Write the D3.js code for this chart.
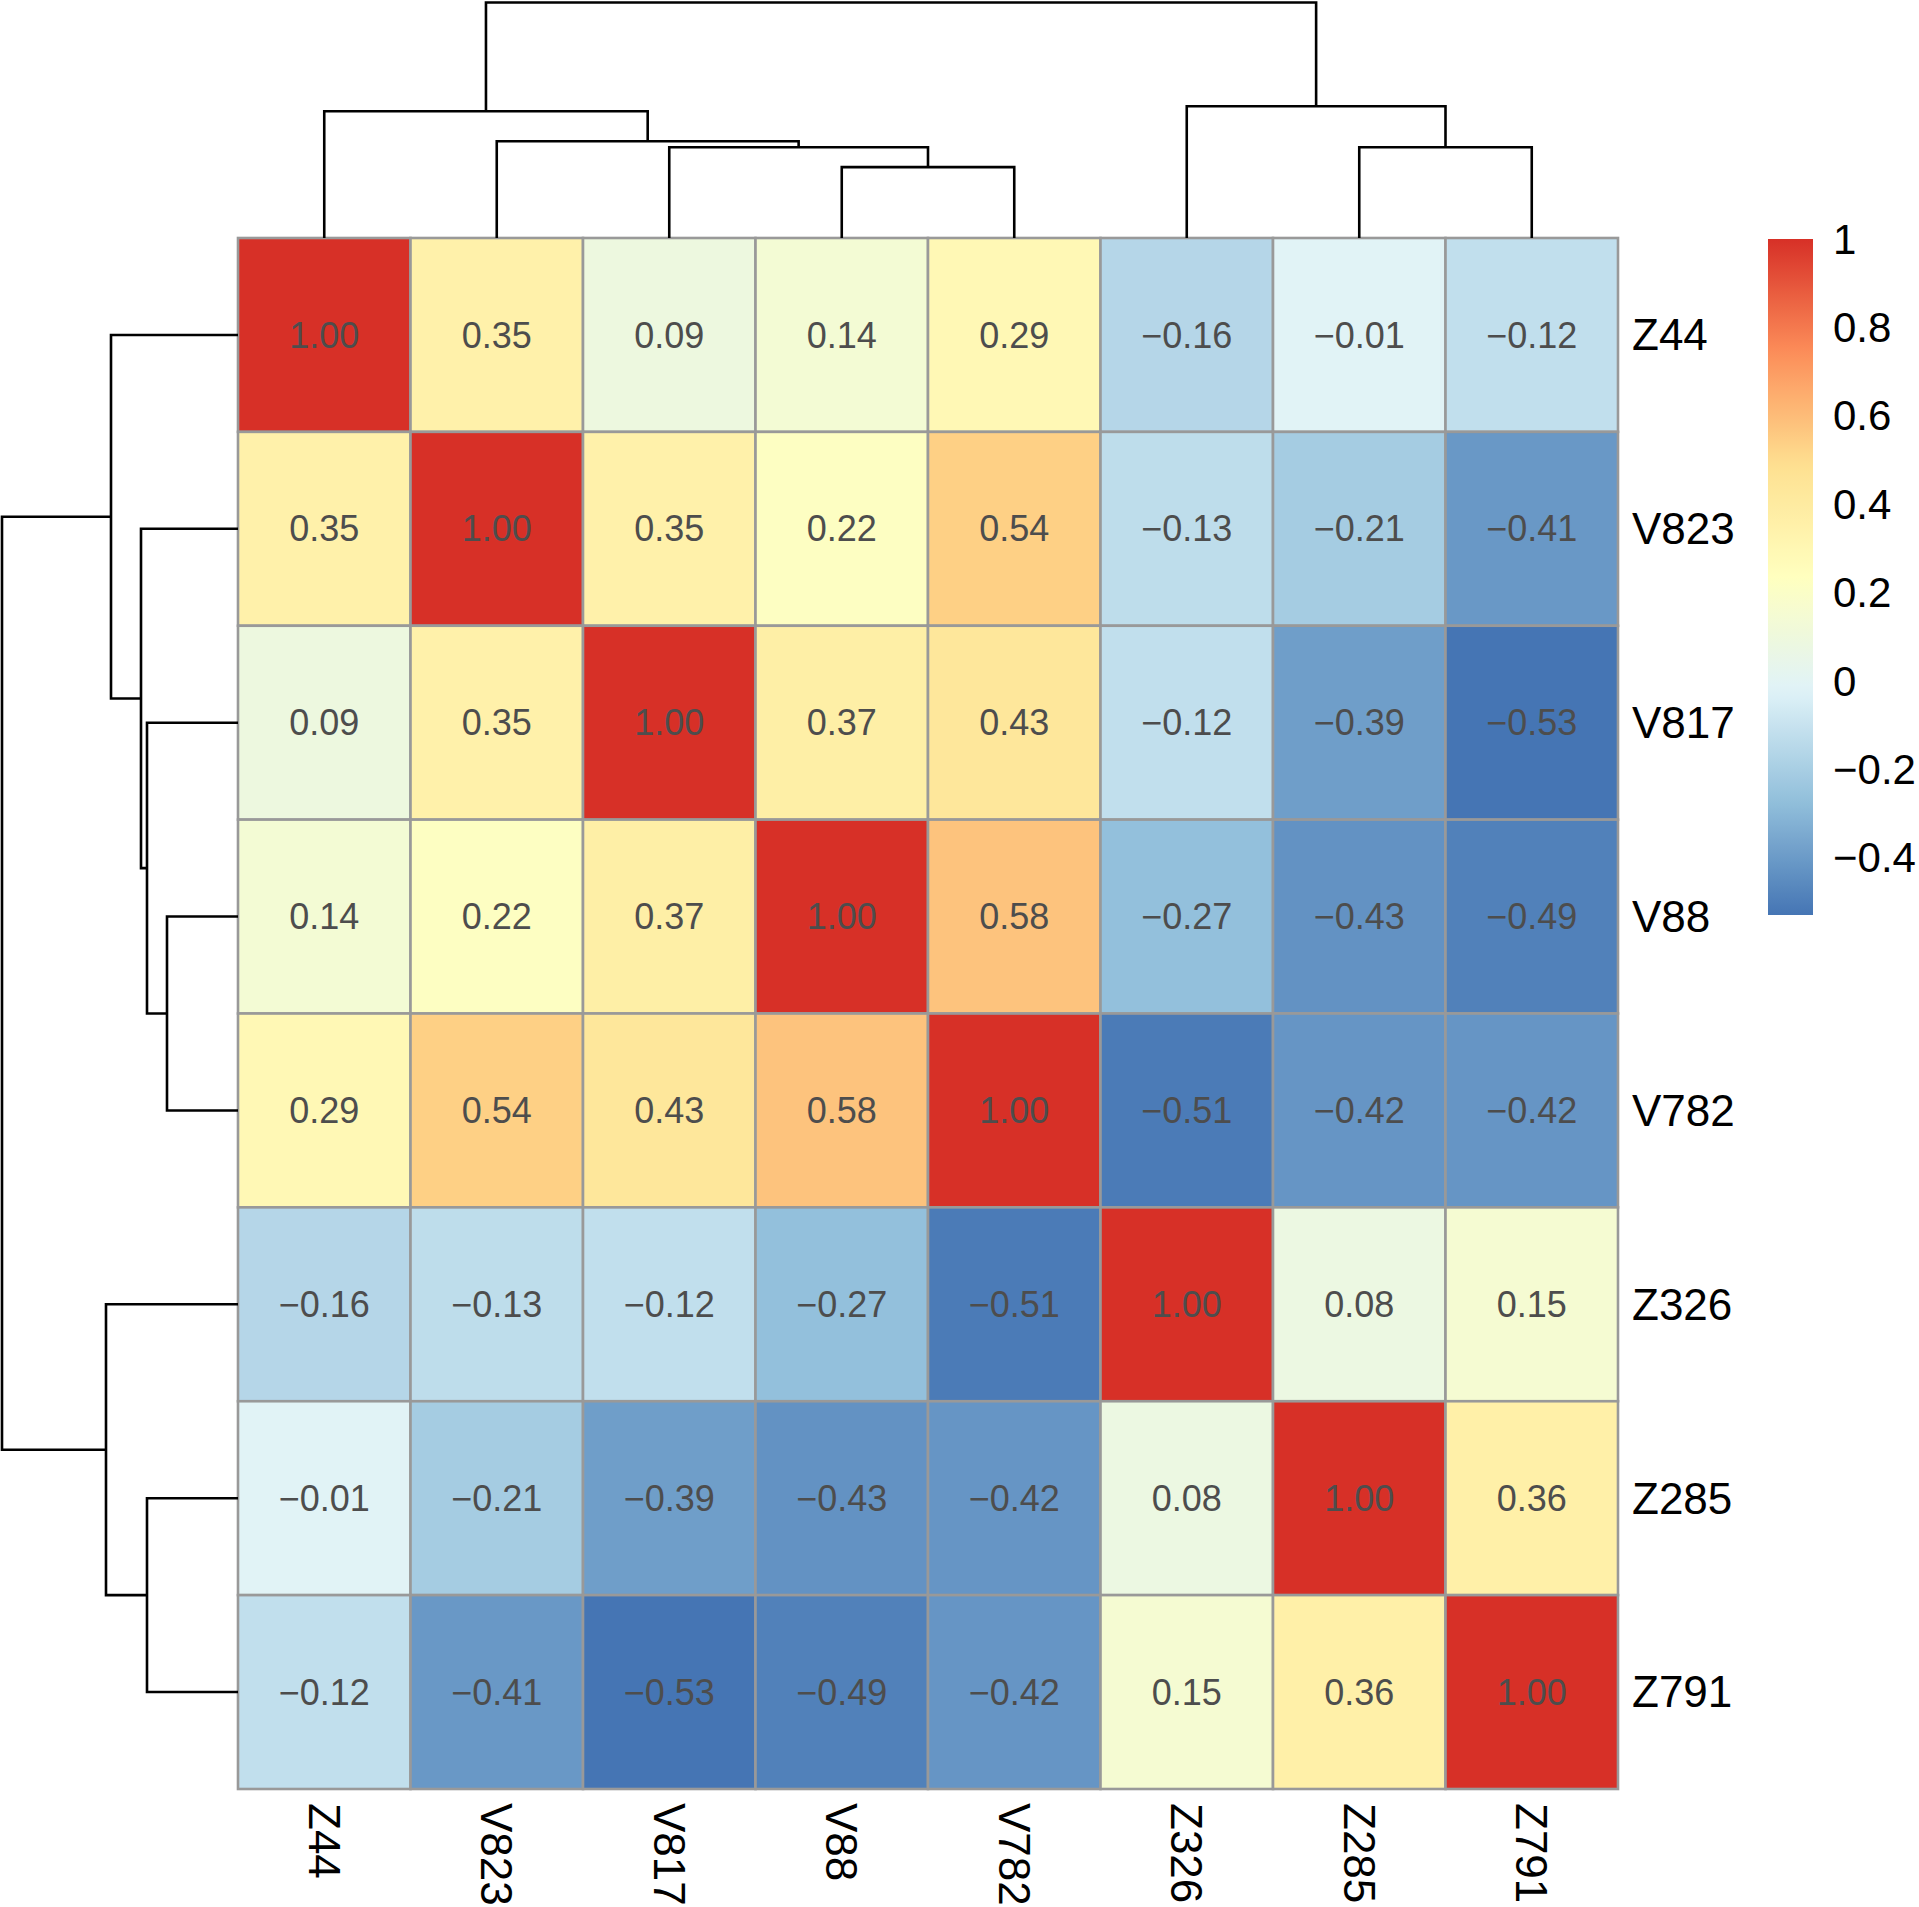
<!DOCTYPE html>
<html>
<head>
<meta charset="utf-8">
<script src="https://cdn.jsdelivr.net/npm/d3@7"></script>
<style>
  body { margin: 0; background: #fff; }
  text { font-family: "Liberation Sans", Arial, Helvetica, sans-serif; }
</style>
</head>
<body>
<svg id="chart"></svg>
<script>
// correlation matrix, rows and cols share the same (clustered) order
const labels = ["Z44", "V823", "V817", "V88", "V782", "Z326", "Z285", "Z791"];
const corr = [
  [ 1.00,  0.35,  0.09,  0.14,  0.29, -0.16, -0.01, -0.12],
  [ 0.35,  1.00,  0.35,  0.22,  0.54, -0.13, -0.21, -0.41],
  [ 0.09,  0.35,  1.00,  0.37,  0.43, -0.12, -0.39, -0.53],
  [ 0.14,  0.22,  0.37,  1.00,  0.58, -0.27, -0.43, -0.49],
  [ 0.29,  0.54,  0.43,  0.58,  1.00, -0.51, -0.42, -0.42],
  [-0.16, -0.13, -0.12, -0.27, -0.51,  1.00,  0.08,  0.15],
  [-0.01, -0.21, -0.39, -0.43, -0.42,  0.08,  1.00,  0.36],
  [-0.12, -0.41, -0.53, -0.49, -0.42,  0.15,  0.36,  1.00]
];

// hierarchical clustering merges (m1.. = result of merge step n)
const mergePairs = [
  ["V88", "V782"],
  ["V817", "m1"],
  ["V823", "m2"],
  ["Z44", "m3"],
  ["Z285", "Z791"],
  ["Z326", "m5"],
  ["m4", "m6"]
];
const mergeHeights = [0.71, 0.91, 0.97, 1.27, 0.91, 1.32, 2.36];

const paletteColors = ["#4575B4", "#91BFDB", "#E0F3F8", "#FFFFBF", "#FEE090", "#FC8D59", "#D73027"];
const legendTicks = [1, 0.8, 0.6, 0.4, 0.2, 0, -0.2, -0.4];

// layout
const W = 1919, H = 1907;
const hm = {left: 238, top: 238, right: 1618, bottom: 1789};
const treeTop = 2.5, treeLeft = 2;

const svg = d3.select("#chart")
  .attr("width", W)
  .attr("height", H);

const x = d3.scaleBand().domain(labels).range([hm.left, hm.right]);
const y = d3.scaleBand().domain(labels).range([hm.top, hm.bottom]);

const flat = corr.flat();
const [vmin, vmax] = d3.extent(flat);
const color = d3.scaleLinear()
  .domain(d3.range(paletteColors.length).map(i => vmin + i * (vmax - vmin) / (paletteColors.length - 1)))
  .range(paletteColors)
  .interpolate(d3.interpolateRgb);

// cells
const cells = [];
corr.forEach((row, i) => row.forEach((v, j) => cells.push({r: labels[i], c: labels[j], v: v})));

svg.append("g")
  .selectAll("rect")
  .data(cells)
  .join("rect")
  .attr("x", d => x(d.c))
  .attr("y", d => y(d.r))
  .attr("width", x.bandwidth())
  .attr("height", y.bandwidth())
  .attr("fill", d => color(d.v))
  .attr("stroke", "#999999")
  .attr("stroke-width", 2.6);

const fmt = d3.format(".2f");
svg.append("g")
  .selectAll("text")
  .data(cells)
  .join("text")
  .attr("x", d => x(d.c) + x.bandwidth() / 2)
  .attr("y", d => y(d.r) + y.bandwidth() / 2)
  .attr("dy", "0.35em")
  .attr("text-anchor", "middle")
  .attr("font-size", 36)
  .attr("fill", "#4d4d4d")
  .text(d => fmt(d.v));

// row labels
svg.append("g")
  .selectAll("text")
  .data(labels)
  .join("text")
  .attr("x", hm.right + 14)
  .attr("y", d => y(d) + y.bandwidth() / 2)
  .attr("dy", "0.35em")
  .attr("font-size", 44)
  .attr("fill", "#000")
  .text(d => d);

// column labels, rotated
svg.append("g")
  .selectAll("text")
  .data(labels)
  .join("text")
  .attr("transform", d => `translate(${x(d) + x.bandwidth() / 2},${hm.bottom + 14}) rotate(90)`)
  .attr("dy", "0.35em")
  .attr("font-size", 44)
  .attr("fill", "#000")
  .text(d => d);

// dendrograms
const hTop = d3.scaleLinear().domain([0, d3.max(mergeHeights)]).range([hm.top, treeTop]);
const hLeft = d3.scaleLinear().domain([0, d3.max(mergeHeights)]).range([hm.left, treeLeft]);

function nodeInfo(centerOf) {
  const nodes = {};
  labels.forEach(l => nodes[l] = {pos: centerOf(l), h: 0});
  mergePairs.forEach((p, i) => {
    const a = nodes[p[0]], b = nodes[p[1]];
    nodes["m" + (i + 1)] = {pos: (a.pos + b.pos) / 2, h: mergeHeights[i], a: a, b: b};
  });
  return nodes;
}

const topNodes = nodeInfo(l => x(l) + x.bandwidth() / 2);
const leftNodes = nodeInfo(l => y(l) + y.bandwidth() / 2);
const steps = mergePairs.map((p, i) => "m" + (i + 1));

svg.append("g")
  .selectAll("path")
  .data(steps)
  .join("path")
  .attr("fill", "none")
  .attr("stroke", "#000")
  .attr("stroke-width", 2.6)
  .attr("d", k => {
    const n = topNodes[k];
    return `M${n.a.pos},${hTop(n.a.h)}V${hTop(n.h)}H${n.b.pos}V${hTop(n.b.h)}`;
  });

svg.append("g")
  .selectAll("path")
  .data(steps)
  .join("path")
  .attr("fill", "none")
  .attr("stroke", "#000")
  .attr("stroke-width", 2.6)
  .attr("d", k => {
    const n = leftNodes[k];
    return `M${hLeft(n.a.h)},${n.a.pos}H${hLeft(n.h)}V${n.b.pos}H${hLeft(n.b.h)}`;
  });

// legend
const lg = {x: 1768, w: 45, top: 239, bottom: 915};
const ly = d3.scaleLinear().domain([vmin, vmax]).range([lg.bottom, lg.top]);

const grad = svg.append("defs").append("linearGradient")
  .attr("id", "legendGrad")
  .attr("x1", 0).attr("y1", 1).attr("x2", 0).attr("y2", 0);
grad.selectAll("stop")
  .data(d3.range(0, 1.0001, 0.02))
  .join("stop")
  .attr("offset", t => t)
  .attr("stop-color", t => color(vmin + t * (vmax - vmin)));

svg.append("rect")
  .attr("x", lg.x)
  .attr("y", lg.top)
  .attr("width", lg.w)
  .attr("height", lg.bottom - lg.top)
  .attr("fill", "url(#legendGrad)");

const tickFmt = d3.format("");
svg.append("g")
  .selectAll("text")
  .data(legendTicks)
  .join("text")
  .attr("x", 1833)
  .attr("y", d => ly(d))
  .attr("dy", "0.35em")
  .attr("font-size", 42)
  .attr("fill", "#000")
  .text(d => tickFmt(d));
</script>
</body>
</html>
